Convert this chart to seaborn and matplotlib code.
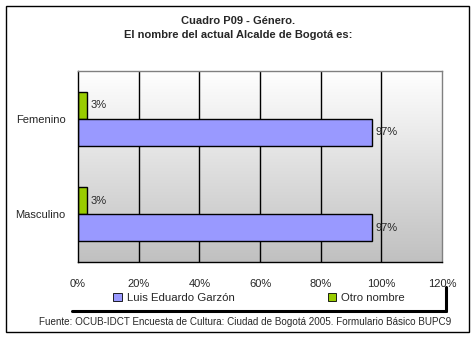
import numpy as np
import pandas as pd
import matplotlib
matplotlib.use("Agg")
import matplotlib.pyplot as plt
from matplotlib.patches import Rectangle, Patch
from matplotlib.lines import Line2D
import seaborn as sns

# Survey answers by gender (percent)
categories = ["Femenino", "Masculino"]
series_names = ["Luis Eduardo Garzón", "Otro nombre"]
garzon = [97, 97]
otro = [3, 3]
xticks = [0, 20, 40, 60, 80, 100, 120]

title = "Cuadro P09 - Género.\nEl nombre del actual Alcalde de Bogotá es:"
source = "Fuente: OCUB-IDCT Encuesta de Cultura: Ciudad de Bogotá 2005. Formulario Básico BUPC9"

colors = {"Luis Eduardo Garzón": "#9999FF", "Otro nombre": "#99CC00"}

df = pd.DataFrame({
    "Género": categories * 2,
    "Respuesta": [series_names[0]] * 2 + [series_names[1]] * 2,
    "Porcentaje": garzon + otro,
})

sns.set_theme(style="white")
plt.rcParams["font.family"] = ["Liberation Sans", "DejaVu Sans"]

W, H = 476, 338
fig = plt.figure(figsize=(W / 100, H / 100), dpi=100)
fig.patch.set_facecolor("white")

# plot area in pixel coordinates
x0, x1, y0, y1 = 78, 442, 71, 262
ax = fig.add_axes([x0 / W, 1 - y1 / H, (x1 - x0) / W, (y1 - y0) / H])

sns.barplot(data=df, y="Género", x="Porcentaje", hue="Respuesta",
            hue_order=["Otro nombre", "Luis Eduardo Garzón"],
            order=categories, palette=colors, orient="h", width=0.57,
            edgecolor="black", linewidth=1, saturation=1, legend=False, ax=ax)

ax.set_xlim(0, 120)
ax.set_ylim(1.5, -0.5)

# gradient background: white at top to grey at bottom
grad = np.linspace(0, 1, 256).reshape(-1, 1)
cmap = matplotlib.colors.LinearSegmentedColormap.from_list("bg", ["#FFFFFF", "#C0C0C0"])
ax.imshow(grad, cmap=cmap, aspect="auto", extent=(0, 120, 1.5, -0.5), zorder=-2,
          interpolation="bilinear")
ax.set_facecolor("white")

for v in xticks[1:-1]:
    ax.axvline(v, color="black", lw=1, zorder=0)

for s in ["top", "right"]:
    ax.spines[s].set_color("#808080")
    ax.spines[s].set_linewidth(1)
for s in ["left", "bottom"]:
    ax.spines[s].set_color("black")
    ax.spines[s].set_linewidth(1)

ax.set_xticks(xticks)
ax.set_xticklabels([f"{v}%" for v in xticks], fontsize=8)
ax.set_yticks([0, 1])
ax.set_yticklabels(categories, fontsize=8)
ax.set_yticks([-0.5, 0.5, 1.5], minor=True)
ax.tick_params(axis="y", which="major", length=0, pad=9)
ax.tick_params(axis="y", which="minor", length=4, width=1, color="black", direction="out")
ax.tick_params(axis="x", length=4, width=1, color="black", direction="out", pad=8)
ax.set_xlabel("")
ax.set_ylabel("")

# value labels
for cont in ax.containers:
    for bar in cont:
        w = bar.get_width()
        yc = bar.get_y() + bar.get_height() / 2
        ax.text(w + 1.2, yc, f"{w:.0f}%", va="center", ha="left", fontsize=8)

fig.text(238 / W, 1 - 28 / H, title, ha="center", va="center", fontsize=8,
         fontweight="bold", linespacing=1.45)

# legend
handles = [Patch(facecolor=colors[n], edgecolor="black", linewidth=0.6) for n in series_names]
fig.legend(handles, series_names, loc="center", bbox_to_anchor=(259 / W, 1 - 298 / H),
           ncol=2, frameon=False, fontsize=8.2, handlelength=0.75, handleheight=0.75,
           handletextpad=0.4, columnspacing=8.2)
fig.add_artist(Line2D([72 / W, 446 / W], [1 - 311 / H, 1 - 311 / H], color="black", lw=2.2,
                      transform=fig.transFigure))
fig.add_artist(Line2D([446 / W, 446 / W], [1 - 287 / H, 1 - 311 / H], color="black", lw=2.2,
                      transform=fig.transFigure))

fig.text(245 / W, 1 - 322 / H, source, ha="center", va="center", fontsize=7.1)

# outer frame
fig.add_artist(Rectangle((5.5 / W, 1 - 331.5 / H), 463.5 / W, 325.5 / H, fill=False,
                         edgecolor="black", lw=1, transform=fig.transFigure))

fig.savefig("out.png", dpi=100)
